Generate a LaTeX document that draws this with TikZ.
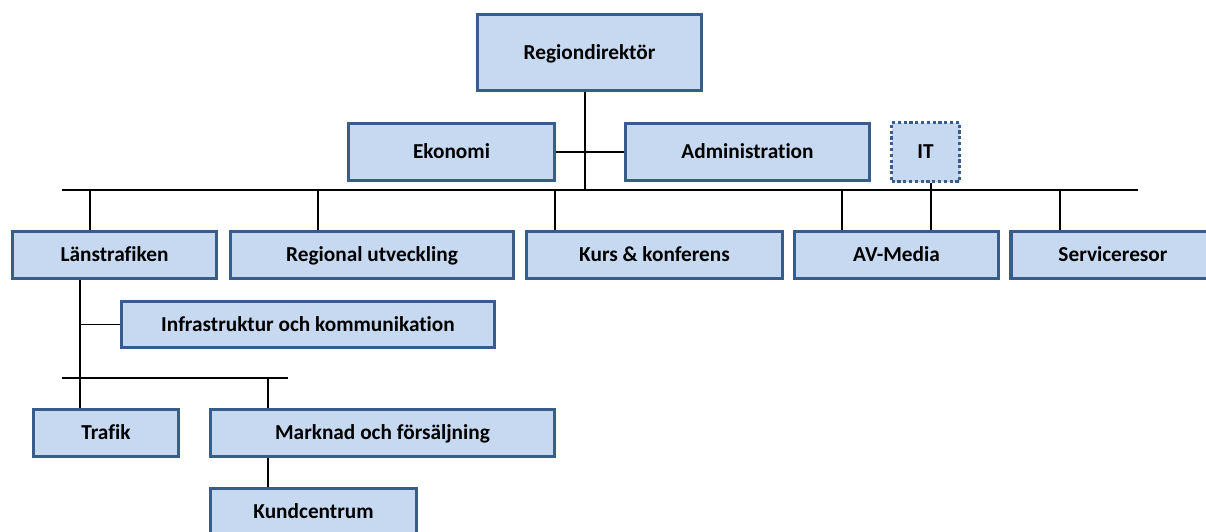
\documentclass[tikz,border=0pt]{standalone}
\usepackage{fontspec}
\setmainfont{Carlito}[Ligatures=NoCommon]
\usepackage{tikz}

\definecolor{boxfill}{RGB}{198,217,241}
\definecolor{boxline}{RGB}{56,93,138}

\tikzset{
  box/.style={draw=boxline, fill=boxfill, line width=3.2pt, inner sep=0pt,
    text height=13.5pt, text depth=0.5pt,
    font=\bfseries\fontsize{21.3}{25}\selectfont},
  itbox/.style={box, dash pattern=on 3.2pt off 2.6pt},
  link/.style={line width=1.8pt, black}
}

\begin{document}
\begin{tikzpicture}[x=1pt,y=-1pt]
             \useasboundingbox (0,0) rectangle (1206,531);
             \clip (0,0) rectangle (1206,531);

             % top level
             \node[box, minimum width=224pt, minimum height=76pt] (chef) at (589.5,52.5) {Regiondirektör};
             \node[box, minimum width=206pt, minimum height=57pt] (eko) at (451.5,152) {Ekonomi};
             \node[box, minimum width=244pt, minimum height=57pt] (adm) at (747.5,152) {Administration};
             \node[itbox, minimum width=68pt, minimum height=59pt] (it) at (925.5,152) {IT};

             % second level
             \node[box, minimum width=204pt, minimum height=47pt] (lan) at (114.5,255) {Länstrafiken};
             \node[box, minimum width=283pt, minimum height=47pt] (reg) at (372,255) {Regional utveckling};
             \node[box, minimum width=256pt, minimum height=47pt] (kurs) at (654.5,255) {Kurs \& konferens};
             \node[box, minimum width=204pt, minimum height=47pt] (av) at (896.5,255) {AV-Media};
             \node[box, minimum width=204pt, minimum height=47pt] (serv) at (1113,255) {Serviceresor};

             % under Länstrafiken
             \node[box, minimum width=373pt, minimum height=46pt] (infra) at (308,324.5) {Infrastruktur och kommunikation};
             \node[box, minimum width=145pt, minimum height=47pt] (trafik) at (106,433) {Trafik};
             \node[box, minimum width=344pt, minimum height=47pt] (mark) at (382.5,433) {Marknad och försäljning};
             \node[box, minimum width=206pt, minimum height=47pt] (kund) at (313.5,512) {Kundcentrum};

             % bus lines
             \coordinate (busL) at (62,190);
             \coordinate (busR) at (1138,190);
             \coordinate (bus2L) at (62,378);
             \coordinate (bus2R) at (288,378);
             \draw[link] (busL) -- (busR);
             \draw[link] (bus2L) -- (bus2R);

             \draw[link] (chef.south -| 585,0) -- (585,190);
             \draw[link] (eko.east) -- (adm.west);
             \draw[link] (it.south -| 931,0) -- (av.north -| 931,0);

             \draw[link] (90,190) -- (lan.north -| 90,0);
             \draw[link] (318,190) -- (reg.north -| 318,0);
             \draw[link] (555,190) -- (kurs.north -| 555,0);
             \draw[link] (842,190) -- (av.north -| 842,0);
             \draw[link] (1060,190) -- (serv.north -| 1060,0);

             \draw[link] (lan.south -| 80,0) -- (80,378);
             \draw[link] (80,0 |- infra.west) -- (infra.west);
             \draw[link] (80,378) -- (trafik.north -| 80,0);
             \draw[link] (268,378) -- (mark.north -| 268,0);
             \draw[link] (mark.south -| 268,0) -- (kund.north -| 268,0);
\end{tikzpicture}
\end{document}
